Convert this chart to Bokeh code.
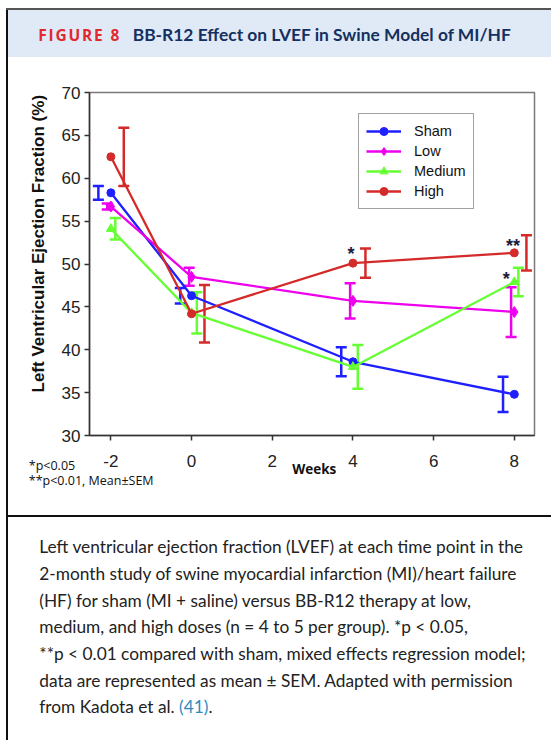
import numpy as np
from bokeh.plotting import figure
from bokeh.models import Range1d, Whisker, TeeHead, ColumnDataSource, Label, FixedTicker, Div, Title
from bokeh.layouts import column, row
from bokeh.embed import file_html
from bokeh.resources import INLINE
from bokeh.core.properties import value

# ---------------- data ----------------
weeks = [-2, 0, 4, 8]
x_ticks = [-2, 0, 2, 4, 6, 8]
y_ticks = [30, 35, 40, 45, 50, 55, 60, 65, 70]

sham = [58.3, 46.3, 38.6, 34.8]
low = [56.7, 48.5, 45.7, 44.4]
medium = [54.1, 44.3, 38.0, 47.9]
high = [62.5, 44.2, 50.1, 51.3]

sham_sem = [0.8, 0.9, 1.7, 2.05]
low_sem = [0.35, 1.05, 2.05, 2.9]
medium_sem = [1.25, 2.4, 2.55, 1.65]
high_sem = [3.4, 3.35, 1.7, 2.05]

# x positions where each group's error bar is drawn (staggered in the original)
sham_bar_x = [-2.31, -0.28, 3.71, 7.72]
low_bar_x = [-2.09, -0.06, 3.93, 7.92]
medium_bar_x = [-1.89, 0.13, 4.12, 8.10]
high_bar_x = [-1.68, 0.32, 4.31, 8.30]

star_x = [3.95, 7.97, 7.80]
star_y = [51.6, 52.55, 48.66]
star_text = ["*", "**", "*"]

series_names = ["Sham", "Low", "Medium", "High"]
title_tag = "FIGURE 8"
title_text = "BB-R12 Effect on LVEF in Swine Model of MI/HF"
y_label = "Left Ventricular Ejection Fraction (%)"
x_label = "Weeks"
foot1 = "*p<0.05"
foot2 = "**p<0.01, Mean\u00b1SEM"
caption_lines = [
    "Left ventricular ejection fraction (LVEF) at each time point in the",
    "2-month study of swine myocardial infarction (MI)/heart failure",
    "(HF) for sham (MI + saline) versus BB-R12 therapy at low,",
    "medium, and high doses (n = 4 to 5 per group). *p < 0.05,",
    "**p < 0.01 compared with sham, mixed effects regression model;",
    "data are represented as mean \u00b1 SEM. Adapted with permission",
]
caption_last = "from Kadota et al. "
caption_ref = "(41)"

CW = 543  # content width right of the left border


def bar(w, h, color):
    return Div(text="", width=w, height=h, margin=0,
               styles={"background-color": color})


# ---------------- header ----------------
header_html = (
    '<div style="position:relative;width:%dpx;height:47px;background:#dfeaf6;overflow:hidden">'
    '<span style="position:absolute;left:30.3px;top:17.9px;font-family:\'Open Sans\';font-weight:700;'
    'font-size:15.5px;letter-spacing:1.8px;color:#e2282f;line-height:1;white-space:nowrap">%s</span>'
    '<span style="position:absolute;left:124.7px;top:16.3px;font-family:Lato;font-weight:700;'
    'font-size:17.4px;color:#15305f;line-height:1;white-space:nowrap">%s</span></div>'
) % (CW, title_tag, title_text)
header = Div(text=header_html, width=CW, height=47, margin=0)

# ---------------- chart ----------------
p = figure(width=CW, height=458, x_range=Range1d(-2.53, 8.5), y_range=Range1d(30, 70),
           toolbar_location=None, output_backend="svg",
           min_border_left=81, min_border_right=17, min_border_top=35, min_border_bottom=80)
p.grid.visible = False
p.outline_line_color = "#7a7a7a"
p.outline_line_width = 1.5
p.xaxis.ticker = FixedTicker(ticks=x_ticks)
p.yaxis.ticker = FixedTicker(ticks=y_ticks)
p.xaxis.major_label_overrides = {t: str(t) for t in x_ticks}
for ax in (p.xaxis, p.yaxis):
    ax.axis_line_color = "#333333"
    ax.axis_line_width = 1.5
    ax.major_tick_line_color = "#333333"
    ax.major_tick_line_width = 1.5
    ax.major_tick_out = 5
    ax.major_tick_in = 0
    ax.minor_tick_out = 0
    ax.minor_tick_in = 0
    ax.major_label_text_font = "Liberation Sans"
    ax.major_label_text_font_size = "17px"
    ax.major_label_text_color = "#222222"
p.yaxis.major_label_standoff = 4
p.xaxis.major_label_standoff = 14

colors = ["#1f1fff", "#ee00ee", "#66ff33", "#d42a2a"]
markers = ["circle", "diamond", "triangle", "circle"]
sizes = [8, 11, 9, 8]
vals = [sham, low, medium, high]
sems = [sham_sem, low_sem, medium_sem, high_sem]
bar_xs = [sham_bar_x, low_bar_x, medium_bar_x, high_bar_x]

for name, c, m, s, v, se, bx in zip(series_names, colors, markers, sizes, vals, sems, bar_xs):
    src = ColumnDataSource(dict(x=bx, upper=[a + b for a, b in zip(v, se)],
                                lower=[a - b for a, b in zip(v, se)]))
    wk = Whisker(source=src, base="x", upper="upper", lower="lower", dimension="height",
                 line_color=c, line_width=2.5,
                 upper_head=TeeHead(size=11, line_color=c, line_width=2.5),
                 lower_head=TeeHead(size=11, line_color=c, line_width=2.5))
    p.add_layout(wk)
    p.line(weeks, v, line_color=c, line_width=2.3, legend_label=name)
    p.scatter(weeks, v, marker=m, size=s, fill_color=c, line_color=c, legend_label=name)

p.text(x=star_x, y=star_y, text=star_text, text_font=value("Liberation Sans"),
       text_font_style="bold", text_font_size="18px", text_color="#1c1c3a",
       text_align="center", text_baseline="middle", y_offset=4)

p.legend.location = (269, 226)
p.legend.margin = 0
p.legend.padding = 7
p.legend.spacing = 0
p.legend.glyph_width = 35
p.legend.glyph_height = 20
p.legend.label_height = 20
p.legend.label_standoff = 13
p.legend.label_text_font = "Liberation Sans"
p.legend.label_text_font_size = "14.5px"
p.legend.label_text_color = "#111111"
p.legend.border_line_color = "#444444"
p.legend.border_line_width = 1
p.legend.background_fill_alpha = 1

# y-axis title placed in the left panel (shifted along the axis like the original)
p.add_layout(Title(text=y_label, align="left", offset=43, standoff=22,
                   vertical_align="bottom", text_font="Liberation Sans",
                   text_font_style="bold", text_font_size="17px",
                   text_color="#111111"), "left")
# notes under the axis, positioned in data coordinates (side panels are not clipped)
p.add_layout(Label(x=-4.035, y=26.5, text=foot1, text_baseline="middle",
                   text_font="Open Sans", text_font_size="12.5px", text_color="#111111"), "below")
p.add_layout(Label(x=2.495, y=26.1, text=x_label, text_baseline="middle",
                   text_font="Open Sans", text_font_style="bold",
                   text_font_size="13.5px", text_color="#111111"), "below")
p.add_layout(Label(x=-4.035, y=24.75, text=foot2, text_baseline="middle",
                   text_font="Open Sans", text_font_size="12.5px", text_color="#111111"), "above")

# ---------------- caption ----------------
CAP_H = 223
cap_html = (
    '<div style="width:%dpx;height:%dpx;padding-top:17.3px;box-sizing:border-box;'
    'padding-left:31.3px;font-family:Lato;font-size:17.3px;line-height:26.67px;'
    'color:#222222;white-space:nowrap">%s<br>%s<span style="color:#2e8bc0">%s</span>.</div>'
) % (CW, CAP_H, "<br>".join(caption_lines), caption_last, caption_ref)
caption = Div(text=cap_html, width=CW, height=CAP_H, margin=0)

body_h = 47 + 458 + 2 + CAP_H
inner = column(header, p, bar(CW, 2, "#111111"), caption, spacing=0)
body = row(bar(6, body_h, "#ffffff"), bar(2, body_h, "#111111"), inner, spacing=0)
top = row(bar(6, 2, "#ffffff"), bar(CW + 2, 2, "#555555"), spacing=0)
layout = column(bar(6 + 2 + CW, 8, "#ffffff"), top, body, spacing=0)

open("out.html", "w").write(file_html(layout, INLINE))
